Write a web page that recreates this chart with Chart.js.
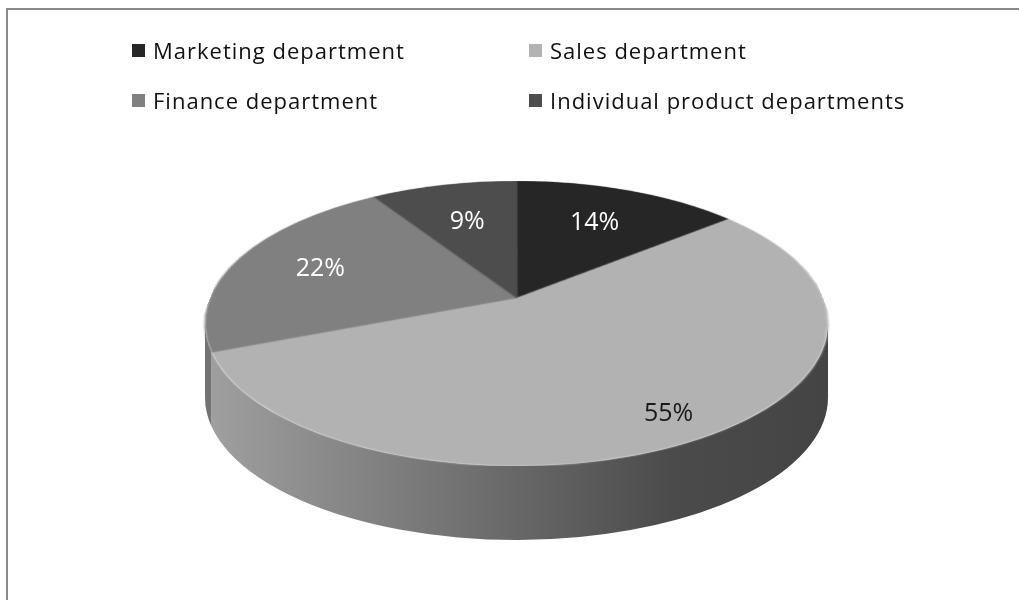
<!DOCTYPE html>
<html>
<head>
<meta charset="utf-8">
<script src="https://cdn.jsdelivr.net/npm/chart.js@4/dist/chart.umd.min.js"></script>
<style>
  html, body { margin: 0; padding: 0; background: #fff; }
  #wrap { position: relative; width: 1019px; height: 600px; overflow: hidden; }
  #frame { position: absolute; left: 6px; top: 8px; width: 1100px; height: 700px;
           border-left: 2px solid #8a8a8a; border-top: 2px solid #8a8a8a; }
  #pie { position: absolute; left: 0; top: 0; }
  #legend { position: absolute; left: 132px; top: 35px; display: grid;
            grid-template-columns: 397px auto; row-gap: 20px;
            font: 22px "Open Sans", sans-serif; letter-spacing: 1px; color: #111; }
  .item { display: flex; align-items: center; height: 30px; white-space: nowrap; }
  .box { width: 13px; height: 13px; margin-right: 8px; flex: none; }
</style>
</head>
<body>
<div id="wrap">
  <div id="frame"></div>
  <canvas id="pie" width="1019" height="600"></canvas>
  <div id="legend"></div>
</div>
<script>
const categories = ['Marketing department', 'Sales department', 'Finance department', 'Individual product departments'];
const shares = [14, 55, 22, 9];
const sliceColors = ['#262626', '#b2b2b2', '#808080', '#4d4d4d'];

const DEPTH = 74;       // height of the side wall
const TILT = -25.5;     // how far the pie centre sits above the middle of the ellipse

// legend, 2 x 2 like the original
const legendEl = document.getElementById('legend');
categories.forEach((name, i) => {
    const item = document.createElement('div');
    item.className = 'item';
    item.innerHTML = '<span class="box" style="background:' + sliceColors[i] + '"></span>' + name;
    legendEl.appendChild(item);
});

function grey(hex, f) {
    const c = Math.round(parseInt(hex.slice(1, 3), 16) * f);
    return 'rgb(' + c + ',' + c + ',' + c + ')';
}

// perspective view of the flat pie: unit disc (u, v) -> screen
function view(chart) {
    const a = chart.chartArea;
    const rx = (a.right - a.left) / 2;
    const ry = (a.bottom - a.top - DEPTH) / 2;
    const k = TILT / ry;
    return { cx: (a.left + a.right) / 2, cy: a.top + ry, rx: rx, ry: ry, k: k, A: rx * Math.sqrt(1 - k * k) };
}
function project(p, u, v) {
    const w = 1 + p.k * v;
    return { x: p.A * u / w, y: (p.ry * v + TILT) / w };
}
function screenAngle(p, t) {
    const q = project(p, Math.cos(t), Math.sin(t));
    let f = Math.atan2(q.y / p.ry, q.x / p.rx);
    while (f < t - Math.PI) f += 2 * Math.PI;
    while (f > t + Math.PI) f -= 2 * Math.PI;
    return f;
}

const pie3d = {
    id: 'pie3d',
    afterDatasetsDraw(chart) {
        const ctx = chart.ctx;
        const p = view(chart);
        const arcs = chart.getDatasetMeta(0).data;
        const R = arcs[0].outerRadius;
        const ox = arcs[0].x, oy = arcs[0].y;

        // take the flat pie chart.js drew and clear it
        const size = Math.ceil(2 * R) + 2;
        const src = document.createElement('canvas');
        src.width = size; src.height = size;
        src.getContext('2d').drawImage(chart.canvas, ox - R - 1, oy - R - 1, size, size, 0, 0, size, size);
        ctx.clearRect(ox - R - 2, oy - R - 2, size + 2, size + 2);

        // side wall
        arcs.forEach((arc, i) => {
            const a0 = Math.max(screenAngle(p, arc.startAngle), 0);
            const a1 = Math.min(screenAngle(p, arc.endAngle), Math.PI);
            if (a1 <= a0) return;
            const grad = ctx.createLinearGradient(p.cx - p.rx, 0, p.cx + p.rx, 0);
            grad.addColorStop(0, grey(sliceColors[i], 0.9));
            grad.addColorStop(0.75, grey(sliceColors[i], 0.42));
            grad.addColorStop(1, grey(sliceColors[i], 0.38));
            ctx.beginPath();
            ctx.ellipse(p.cx, p.cy, p.rx, p.ry, 0, a0, a1);
            ctx.ellipse(p.cx, p.cy + DEPTH, p.rx, p.ry, 0, a1, a0, true);
            ctx.closePath();
            ctx.fillStyle = grad;
            ctx.fill();
        });

        // top face, warped row by row
        const srcV = (Y) => Math.max(-1, Math.min(1, (Y - TILT) / (p.ry - p.k * Y)));
        ctx.save();
        ctx.imageSmoothingEnabled = true;
        for (let py = Math.floor(p.cy - p.ry); py <= Math.ceil(p.cy + p.ry); py++) {
            const y0 = py - p.cy, y1 = y0 + 1;
            const v0 = srcV(y0), v1 = srcV(y1);
            if (v1 <= v0) continue;
            const w = 1 + p.k * (v0 + v1) / 2;
            const half = p.A / w;
            ctx.drawImage(src, 1, 1 + (v0 + 1) * R, 2 * R, (v1 - v0) * R,
                          p.cx - half, py, 2 * half, 1);
        }
        ctx.restore();

        // percentage labels
        ctx.save();
        ctx.font = '25px "Open Sans", sans-serif';
        ctx.textAlign = 'center';
        ctx.textBaseline = 'middle';
        arcs.forEach((arc, i) => {
            const mid = (arc.startAngle + arc.endAngle) / 2;
            const f = 0.6 + 0.45 * shares[i] / 100;
            const q = project(p, f * Math.cos(mid), f * Math.sin(mid));
            const light = parseInt(sliceColors[i].slice(1, 3), 16) > 150;
            ctx.fillStyle = light ? '#1a1a1a' : '#ffffff';
            ctx.fillText(shares[i] + '%', p.cx + q.x, p.cy + q.y);
        });
        ctx.restore();
    }
};

new Chart(document.getElementById('pie'), {
    type: 'pie',
    data: {
        labels: categories,
        datasets: [{
            data: shares,
            backgroundColor: sliceColors,
            borderColor: sliceColors,
            borderWidth: 0.5,
            clip: false
        }]
    },
    options: {
        responsive: false,
        animation: false,
        layout: { padding: { left: 205, right: 191, top: 181, bottom: 60 } },
        plugins: {
            legend: { display: false },
            tooltip: { enabled: false }
        }
    },
    plugins: [pie3d]
});
</script>
</body>
</html>
